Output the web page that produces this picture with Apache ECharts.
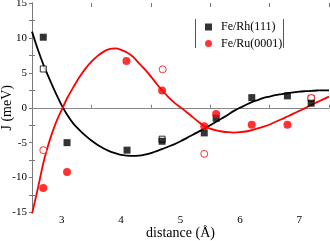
<!DOCTYPE html>
<html>
<head>
<meta charset="utf-8">
<script src="https://cdn.jsdelivr.net/npm/echarts@6/dist/echarts.min.js"></script>
<style>html,body{margin:0;padding:0;background:#fff;}#c{width:330px;height:241px;}</style>
</head>
<body>
<div id="c"></div>
<script>
// Fitted curves, x from 2.5 to 7.5 by 0.1
var curveX = [2.5, 2.6, 2.7, 2.8, 2.9, 3.0, 3.1, 3.2, 3.3, 3.4, 3.5, 3.6, 3.7, 3.8, 3.9, 4.0, 4.1, 4.2, 4.3, 4.4, 4.5,
              4.6, 4.7, 4.8, 4.9, 5.0, 5.1, 5.2, 5.3, 5.4, 5.5, 5.6, 5.7, 5.8, 5.9, 6.0, 6.1, 6.2, 6.3, 6.4, 6.5,
              6.6, 6.7, 6.8, 6.9, 7.0, 7.1, 7.2, 7.3, 7.4, 7.5];
var rhCurve = [10.9, 8.3, 6.0, 4.0, 2.1, 0.35, -1.1, -2.3, -3.2, -4.0, -4.7, -5.3, -5.8, -6.2, -6.5, -6.75, -6.85, -6.9, -6.85, -6.7, -6.5,
               -6.2, -5.9, -5.55, -5.2, -4.8, -4.35, -3.9, -3.45, -3.0, -2.5, -2.0, -1.5, -1.0, -0.45, 0.0, 0.4, 0.8, 1.1, 1.4, 1.6,
               1.8, 1.95, 2.1, 2.2, 2.3, 2.37, 2.43, 2.47, 2.5, 2.5];
var ruCurve = [-15.2, -11.5, -7.6, -4.6, -2.2, -0.3, 1.5, 3.0, 4.4, 5.6, 6.6, 7.4, 8.0, 8.4, 8.5, 8.3, 7.9, 7.3, 6.4, 5.5, 4.5,
               3.4, 2.4, 1.5, 0.7, 0.05, -0.6, -1.3, -2.0, -2.6, -3.0, -3.25, -3.4, -3.5, -3.55, -3.5, -3.4, -3.2, -2.95, -2.7, -2.4,
               -2.0, -1.65, -1.25, -0.85, -0.45, -0.05, 0.4, 0.8, 1.2, 1.6];

// Fe/Rh(111) data points
var rhFilledX = [2.69, 3.09, 4.10, 4.69, 5.40, 5.60, 6.20, 6.80, 7.20];
var rhFilledY = [10.1, -5.0, -6.07, -4.8, -3.6, -1.5, 1.45, 1.7, 0.65];
var rhOpenX = [2.69, 4.69, 7.20];
var rhOpenY = [5.55, -4.5, 1.35];

// Fe/Ru(0001) data points
var ruFilledX = [2.69, 3.09, 4.09, 4.69, 5.40, 5.60, 6.20, 6.80];
var ruFilledY = [-11.5, -9.2, 6.7, 2.46, -2.65, -0.9, -2.45, -2.45];
var ruOpenX = [2.69, 4.70, 5.40, 7.20];
var ruOpenY = [-6.07, 5.5, -6.6, 1.4];

var seriesNames = ['Fe/Rh(111)', 'Fe/Ru(0001)'];
var xLabelTicks = [3, 4, 5, 6, 7];

function zip(xs, ys) { return xs.map(function (x, i) { return [x, ys[i]]; }); }

var serif = '"Liberation Serif", "DejaVu Serif", serif';
var axisGray = '#7a7a7a';

var chart = echarts.init(document.getElementById('c'));
chart.setOption({
  animation: false,
  backgroundColor: '#fff',
  grid: { left: 32, right: 1, top: 3, bottom: 28.5, containLabel: false, outerBoundsMode: 'none' },
  legend: {
    orient: 'vertical', left: 200, top: 16,
    itemWidth: 7, itemHeight: 7, itemGap: 4.5,
    textStyle: { fontFamily: serif, fontSize: 12, color: '#000', padding: [0, 0, 0, 4] },
    data: [
      { name: seriesNames[0], icon: 'rect' },
      { name: seriesNames[1], icon: 'circle' }
    ]
  },
  xAxis: [
    {
      type: 'value', min: 2.5, max: 7.5, interval: 0.5, position: 'bottom',
      axisLine: { show: true, lineStyle: { color: axisGray, width: 1 } },
      axisTick: { show: false },
      splitLine: { show: false },
      axisLabel: {
        fontFamily: serif, fontSize: 11, color: '#000', margin: 2,
        formatter: function (v) { return xLabelTicks.indexOf(Math.round(v * 100) / 100) >= 0 ? String(Math.round(v)) : ''; }
      },
      name: 'distance (Å)', nameLocation: 'middle', nameGap: 14, nameMoveOverlap: false,
      nameTextStyle: { fontFamily: serif, fontSize: 14, color: '#000' }
    },
    {
      type: 'value', min: 0, max: 5, interval: 1, position: 'bottom',
      axisLine: { show: false }, splitLine: { show: false },
      axisTick: { show: true, inside: true, length: 3, lineStyle: { color: axisGray } },
      axisLabel: { show: false }
    },
    {
      type: 'value', min: 0, max: 5, interval: 1, position: 'top',
      axisLine: { show: false }, splitLine: { show: false },
      axisTick: { show: true, inside: true, length: 4, lineStyle: { color: axisGray } },
      axisLabel: { show: false }
    }
  ],
  yAxis: [
    {
      type: 'value', min: -15, max: 15, interval: 5, position: 'left',
      axisLine: { show: true, lineStyle: { color: axisGray, width: 1 } },
      axisTick: { show: false, inside: true },
      minorTick: { show: true, splitNumber: 2, length: 3, lineStyle: { color: axisGray } },
      splitLine: { show: false },
      axisLabel: { fontFamily: serif, fontSize: 11, color: '#000', margin: 5 },
      name: 'J (meV)', nameLocation: 'middle', nameGap: 18, nameRotate: 90, nameMoveOverlap: false,
      nameTextStyle: { fontFamily: serif, fontSize: 14, color: '#000' }
    },
    {
      type: 'value', min: -15, max: 15, interval: 2.5, position: 'right',
      axisLine: { show: true, lineStyle: { color: axisGray, width: 1 } },
      axisTick: { show: true, inside: true, length: 3, lineStyle: { color: axisGray } },
      splitLine: { show: false },
      axisLabel: { show: false }
    }
  ],
  series: [
    {
      type: 'scatter', name: seriesNames[0], data: zip(rhFilledX, rhFilledY),
      symbol: 'rect', symbolSize: 7, z: 6,
      itemStyle: { color: '#000' }
    },
    {
      type: 'scatter', name: seriesNames[1], data: zip(ruFilledX, ruFilledY),
      symbol: 'circle', symbolSize: 8, z: 6,
      itemStyle: { color: '#f00' }
    },
    {
      type: 'line', name: 'rhCurve', data: zip(curveX, rhCurve), smooth: 0.3,
      showSymbol: false, symbol: 'none', z: 3,
      lineStyle: { color: '#000', width: 1.8 },
      markLine: {
        silent: true, symbol: 'none', label: { show: false },
        lineStyle: { color: '#888', width: 1, type: 'solid' },
        data: [{ yAxis: 0 }], z: 1
      }
    },
    {
      type: 'line', name: 'ruCurve', data: zip(curveX, ruCurve), smooth: 0.3,
      showSymbol: false, symbol: 'none', z: 3,
      lineStyle: { color: '#f00', width: 1.8 }
    },
    {
      type: 'scatter', name: 'rhOpen', data: zip(rhOpenX, rhOpenY),
      symbol: 'rect', symbolSize: 6, z: 5,
      itemStyle: { color: '#fff', borderColor: '#000', borderWidth: 1 }
    },
    {
      type: 'scatter', name: 'ruOpen', data: zip(ruOpenX, ruOpenY),
      symbol: 'circle', symbolSize: 7, z: 5,
      itemStyle: { color: '#fff', borderColor: '#f00', borderWidth: 1 }
    }
  ],
  graphic: [
    { type: 'line', shape: { x1: 195.5, y1: 19, x2: 195.5, y2: 48 }, style: { stroke: '#555', lineWidth: 1 } },
    { type: 'line', shape: { x1: 283.5, y1: 19, x2: 283.5, y2: 48 }, style: { stroke: '#555', lineWidth: 1 } }
  ]
});
</script>
</body>
</html>
